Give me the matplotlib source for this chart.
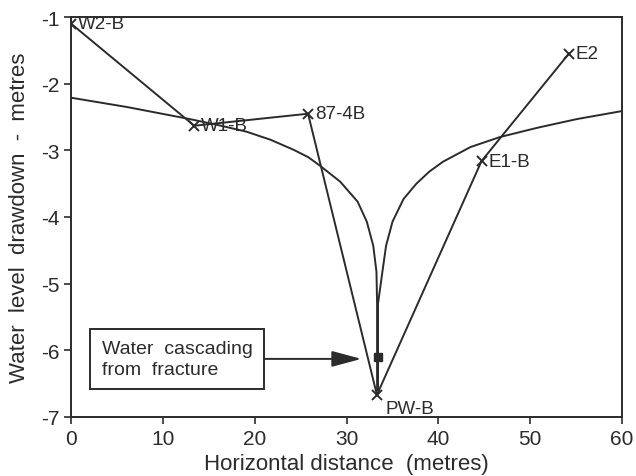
import matplotlib
matplotlib.use("Agg")
import matplotlib.pyplot as plt

plt.rcParams["font.family"] = ["Liberation Sans", "DejaVu Sans"]
plt.rcParams["axes.unicode_minus"] = False

INK = "#2b2b2b"

# observation wells (distance m, drawdown m)
well_names = ["W2-B", "W1-B", "87-4B", "PW-B", "E1-B", "E2"]
well_x = [0.0, 13.4, 25.8, 33.3, 44.7, 54.2]
well_y = [-1.1, -2.63, -2.45, -6.67, -3.16, -1.55]

# theoretical drawdown curve, left and right branches
left_x = [0.0, 6.1, 12.9, 16.0, 19.1, 21.7, 24.2, 25.8, 27.1, 29.3, 31.2, 32.2, 32.9, 33.25, 33.32, 33.32]
left_y = [-2.21, -2.35, -2.53, -2.62, -2.72, -2.84, -2.99, -3.1, -3.23, -3.47, -3.77, -4.07, -4.43, -4.82, -5.3, -6.6]
right_x = [33.42, 33.42, 33.9, 34.3, 35.0, 36.2, 37.6, 39.0, 40.5, 43.5, 46.7, 50.8, 55.1, 60.0]
right_y = [-6.6, -5.3, -4.82, -4.43, -4.07, -3.73, -3.5, -3.32, -3.17, -2.95, -2.8, -2.66, -2.53, -2.41]

cascade_x = [33.4]
cascade_y = [-6.1]

fig = plt.figure(figsize=(6.36, 4.77), dpi=100)
ax = fig.add_axes([0.112, 0.124, 0.866, 0.838])

ax.plot(left_x, left_y, color=INK, lw=1.4)
ax.plot(right_x, right_y, color=INK, lw=1.4)
ax.plot(well_x, well_y, color=INK, lw=1.4, marker="x", ms=7, mew=1.4)
ax.plot(cascade_x, cascade_y, color=INK, marker="s", ms=6, ls="none")

offsets = {"PW-B": (6, -10)}
for name, x, y in zip(well_names, well_x, well_y):
    dx, dy = offsets.get(name, (5, 0))
    ax.annotate(name, (x, y), xytext=(dx, dy), textcoords="offset points",
                va="center", ha="left", fontsize=13.5, color=INK)

ax.annotate("Water  cascading\nfrom  fracture", xy=(31.6, -6.13), xytext=(3.3, -6.13),
            fontsize=14, color=INK, va="center", ha="left", linespacing=1.25,
            bbox=dict(boxstyle="square,pad=0.6", fc="white", ec=INK, lw=1.4),
            arrowprops=dict(arrowstyle="-|>,head_length=1.3,head_width=0.35",
                            color=INK, lw=1.4, shrinkA=0, shrinkB=0))

ax.set_xlim(0, 60)
ax.set_ylim(-7, -1)
ax.set_xticks(range(0, 61, 10))
ax.set_yticks(range(-7, 0))
ax.tick_params(direction="out", length=5, width=1.2, labelsize=15, colors=INK)
for s in ax.spines.values():
    s.set_linewidth(1.4)
    s.set_color(INK)

ax.set_xlabel("Horizontal distance  (metres)", fontsize=16, color=INK, labelpad=4)
ax.set_ylabel("Water  level  drawdown  -  metres", fontsize=16, color=INK, labelpad=8)

fig.savefig("out.png", dpi=100)
